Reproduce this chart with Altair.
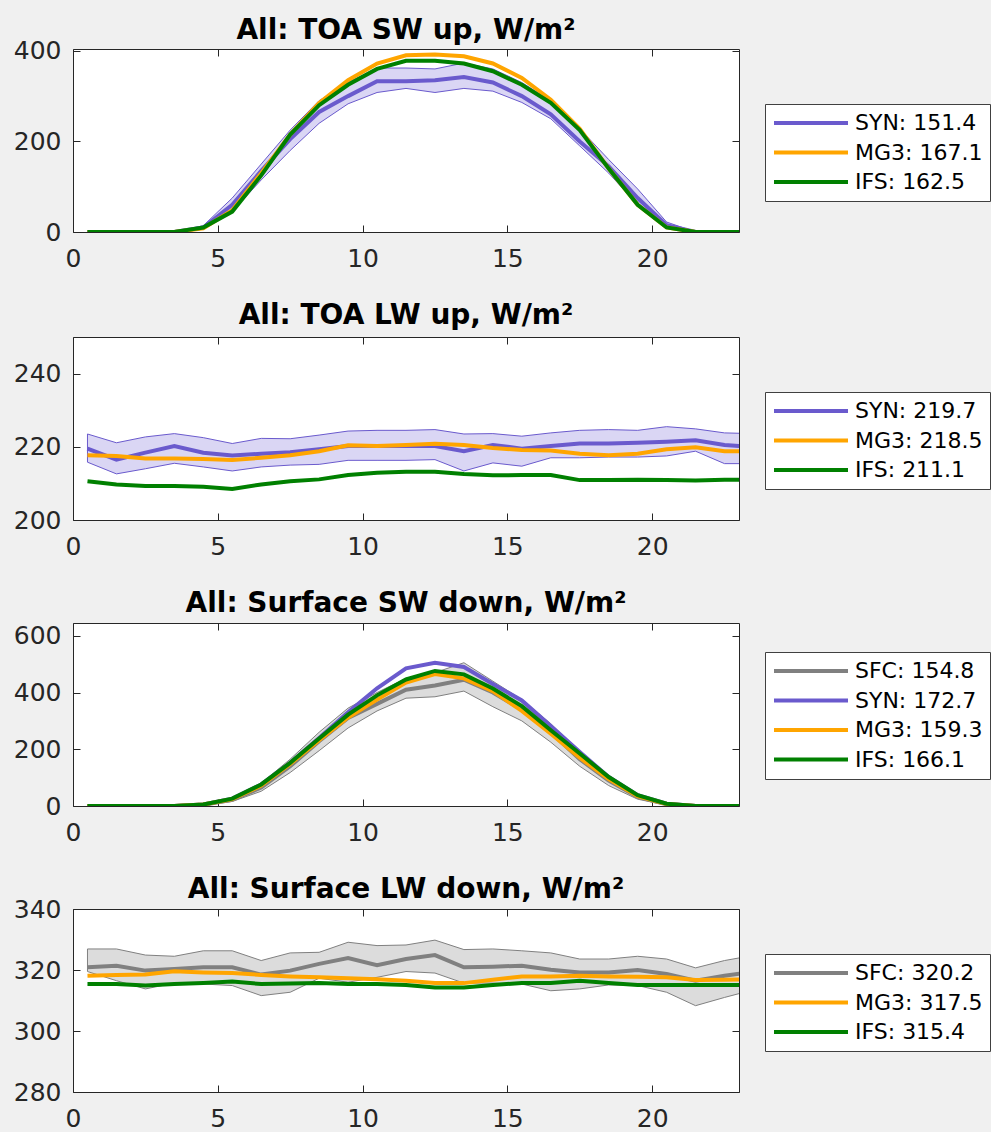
import altair as alt
import pandas as pd

hours = [0.5 + i for i in range(24)]
x_ticks = [0, 5, 10, 15, 20]

# ---------------- Panel 1: TOA SW up ----------------
p1_syn = [0, 0, 0, 0, 10, 60, 135, 205, 265, 300, 333, 333, 335, 342, 330, 300, 260, 200, 145, 75, 15, 0, 0, 0]
p1_syn_lo = [0, 0, 0, 0, 6, 45, 115, 180, 240, 283, 308, 317, 308, 317, 311, 286, 250, 190, 130, 60, 10, 0, 0, 0]
p1_syn_hi = [0, 0, 0, 0, 14, 75, 150, 225, 290, 330, 362, 362, 360, 373, 360, 330, 290, 228, 160, 95, 22, 0, 0, 0]
p1_mg3 = [0, 0, 0, 0, 8, 48, 130, 215, 285, 335, 372, 390, 392, 388, 372, 340, 292, 228, 140, 60, 10, 0, 0, 0]
p1_ifs = [0, 0, 0, 0, 10, 45, 125, 215, 280, 325, 360, 378, 378, 372, 355, 325, 285, 225, 140, 60, 10, 0, 0, 0]

# ---------------- Panel 2: TOA LW up ----------------
p2_syn = [219.5, 216.5, 218.4, 220.2, 218.4, 217.6, 218.1, 218.5, 219.3, 220.2, 220.2, 220.2,
          220.2, 218.8, 220.5, 219.5, 220.2, 220.9, 220.9, 221.1, 221.4, 221.8, 220.5, 219.9]
p2_syn_hi = [223.5, 221.1, 222.7, 223.6, 222.5, 220.9, 222.3, 222.2, 223.2, 224.3, 224.5, 224.5,
             224.7, 223.5, 223.6, 222.9, 223.8, 224.5, 224.7, 224.5, 225.5, 224.9, 223.8, 223.6]
p2_syn_lo = [215.8, 212.6, 214.0, 215.5, 214.5, 213.4, 214.5, 215.0, 215.2, 216.3, 216.3, 216.3,
             216.5, 213.4, 215.6, 214.7, 217.0, 217.0, 217.2, 217.2, 217.5, 218.8, 215.4, 215.4]
p2_mg3 = [217.7, 217.5, 216.8, 216.8, 216.7, 216.4, 217.0, 217.7, 218.8, 220.4, 220.2, 220.5,
          220.8, 220.5, 219.7, 219.1, 219.0, 218.1, 217.7, 218.1, 219.3, 219.9, 218.8, 218.8]
p2_ifs = [210.6, 209.7, 209.3, 209.3, 209.1, 208.5, 209.7, 210.6, 211.1, 212.3, 212.9, 213.2,
          213.2, 212.6, 212.2, 212.3, 212.3, 210.9, 210.9, 211.0, 210.9, 210.8, 211.0, 211.0]

# ---------------- Panel 3: Surface SW down ----------------
p3_sfc = [0, 0, 0, 0, 4, 22, 65, 140, 228, 310, 360, 410, 425, 445, 400, 340, 260, 165, 90, 32, 6, 0, 0, 0]
p3_sfc_hi = [0, 0, 0, 0, 6, 28, 80, 165, 260, 345, 400, 450, 470, 505, 440, 375, 290, 190, 108, 42, 9, 0, 0, 0]
p3_sfc_lo = [0, 0, 0, 0, 2, 16, 52, 118, 195, 275, 335, 380, 385, 405, 350, 300, 225, 140, 72, 24, 3, 0, 0, 0]
p3_syn = [0, 0, 0, 0, 5, 26, 76, 152, 240, 330, 415, 485, 505, 490, 430, 372, 282, 190, 102, 38, 8, 0, 0, 0]
p3_mg3 = [0, 0, 0, 0, 5, 24, 72, 148, 232, 312, 375, 435, 465, 450, 405, 335, 255, 170, 95, 35, 7, 0, 0, 0]
p3_ifs = [0, 0, 0, 0, 5, 26, 76, 152, 238, 322, 390, 446, 476, 464, 414, 352, 267, 185, 102, 38, 8, 0, 0, 0]

# ---------------- Panel 4: Surface LW down ----------------
p4_sfc = [320.9, 321.4, 319.8, 320.3, 320.9, 320.9, 318.5, 319.8, 322.0, 323.9, 321.6, 323.6,
          324.9, 320.9, 321.1, 321.4, 320.1, 319.2, 319.2, 320.0, 318.7, 316.5, 318.1, 319.5]
p4_sfc_hi = [326.9, 326.9, 324.9, 324.5, 326.3, 326.3, 323.1, 325.6, 325.8, 329.1, 328.0, 328.2,
             329.8, 326.7, 326.9, 326.3, 325.6, 323.6, 323.6, 324.5, 323.6, 320.7, 323.1, 324.8]
p4_sfc_lo = [319.5, 316.5, 313.8, 315.7, 315.4, 314.9, 311.6, 312.7, 317.3, 316.0, 317.6, 319.5,
             319.0, 315.7, 315.7, 315.4, 313.2, 313.8, 315.1, 314.9, 312.7, 308.3, 311.0, 313.5]
p4_mg3 = [318.1, 318.4, 318.5, 319.6, 319.2, 319.0, 318.4, 317.9, 317.6, 317.3, 317.0, 316.5,
          315.7, 315.7, 316.8, 317.9, 317.9, 318.1, 317.9, 317.8, 317.6, 316.7, 316.8, 317.0]
p4_ifs = [315.4, 315.4, 314.9, 315.4, 315.7, 316.2, 315.4, 315.6, 315.7, 315.4, 315.4, 315.1,
          314.3, 314.3, 315.1, 315.7, 315.7, 316.5, 315.7, 315.1, 315.1, 315.1, 315.1, 315.1]

C_SYN = "#6a5acd"
C_MG3 = "#ffa500"
C_IFS = "#008000"
C_SFC = "#808080"
FILL_SYN = "#dad6f4"
FILL_SFC = "#dcdcdc"
FRAME = "#262626"
FONT = "DejaVu Sans"
W, H = 666, 183


def panel(title, series, band, band_color, band_fill, ydomain, yticks, legend_y, title_offset):
    rows = []
    for lab, vals, col in series:
        for h, v in zip(hours, vals):
            rows.append({"hour": h, "value": v, "series": lab})
    df = pd.DataFrame(rows)
    bdf = pd.DataFrame({"hour": hours, "lo": band[0], "hi": band[1]})
    labels = [s[0] for s in series]
    colors = [s[2] for s in series]

    xs = alt.Scale(domain=[0, 23], nice=False, zero=False)
    ys = alt.Scale(domain=ydomain, nice=False, zero=False)

    common = dict(grid=False, domain=False, title=None)
    ax_x_lab = alt.Axis(orient="bottom", values=x_ticks, ticks=False, tickSize=0, labelPadding=14,
                        labelFlush=False, labelOverlap=False,
                        labelFontSize=25, labelFont=FONT, labelColor=FRAME, **common)
    ax_y_lab = alt.Axis(orient="left", values=yticks, ticks=False, tickSize=0, labelPadding=12,
                        labelFlush=False, labelOverlap=False,
                        labelFontSize=25, labelFont=FONT, labelColor=FRAME, **common)
    tick_kw = dict(labels=False, ticks=True, tickSize=7, tickColor=FRAME, tickWidth=1, **common)
    ax_x_bot = alt.Axis(orient="top", offset=-H, values=x_ticks, **tick_kw)
    ax_x_top = alt.Axis(orient="bottom", offset=-H, values=x_ticks, **tick_kw)
    ax_y_left = alt.Axis(orient="right", offset=-W, values=yticks, **tick_kw)
    ax_y_right = alt.Axis(orient="left", offset=-W, values=yticks, **tick_kw)

    band_layer = alt.Chart(bdf).mark_area(
        fill=band_fill, stroke=band_color, strokeWidth=1, clip=True, opacity=1
    ).encode(
        x=alt.X("hour:Q", scale=xs, axis=ax_x_lab),
        y=alt.Y("lo:Q", scale=ys, axis=ax_y_lab),
        y2="hi:Q",
    )

    line_layer = alt.Chart(df).mark_line(strokeWidth=4, clip=True).encode(
        x=alt.X("hour:Q", scale=xs, axis=ax_x_bot),
        y=alt.Y("value:Q", scale=ys, axis=ax_y_left),
        color=alt.Color(
            "series:N",
            sort=labels,
            scale=alt.Scale(domain=labels, range=colors),
            legend=alt.Legend(
                orient="none", legendX=692, legendY=legend_y, title=None,
                symbolType="stroke", symbolSize=5476, symbolStrokeWidth=4,
                labelFontSize=22, labelFont=FONT, labelColor="black",
                labelOffset=5, strokeColor="#404040", fillColor="white",
                padding=7, rowPadding=5.5, clipHeight=24,
            ),
        ),
    )

    tick_layer = alt.Chart(df).mark_point(opacity=0).encode(
        x=alt.X("hour:Q", scale=xs, axis=ax_x_top),
        y=alt.Y("value:Q", scale=ys, axis=ax_y_right),
    )

    return alt.layer(band_layer, line_layer, tick_layer).resolve_axis(
        x="independent", y="independent"
    ).properties(
        width=W, height=H,
        title=alt.TitleParams(title, fontSize=28, fontWeight="bold", font=FONT, color="black",
                              anchor="middle", offset=title_offset, frame="group"),
    )


c1 = panel("All: TOA SW up, W/m²",
           [("SYN: 151.4", p1_syn, C_SYN), ("MG3: 167.1", p1_mg3, C_MG3), ("IFS: 162.5", p1_ifs, C_IFS)],
           (p1_syn_lo, p1_syn_hi), C_SYN, FILL_SYN, [0, 404], [0, 200, 400], 55, -6)
c2 = panel("All: TOA LW up, W/m²",
           [("SYN: 219.7", p2_syn, C_SYN), ("MG3: 218.5", p2_mg3, C_MG3), ("IFS: 211.1", p2_ifs, C_IFS)],
           (p2_syn_lo, p2_syn_hi), C_SYN, FILL_SYN, [200, 250], [200, 220, 240], 55, 7)
c3 = panel("All: Surface SW down, W/m²",
           [("SFC: 154.8", p3_sfc, C_SFC), ("SYN: 172.7", p3_syn, C_SYN),
            ("MG3: 159.3", p3_mg3, C_MG3), ("IFS: 166.1", p3_ifs, C_IFS)],
           (p3_sfc_lo, p3_sfc_hi), C_SFC, FILL_SFC, [0, 645], [0, 200, 400, 600], 29, 5)
c4 = panel("All: Surface LW down, W/m²",
           [("SFC: 320.2", p4_sfc, C_SFC), ("MG3: 317.5", p4_mg3, C_MG3), ("IFS: 315.4", p4_ifs, C_IFS)],
           (p4_sfc_lo, p4_sfc_hi), C_SFC, FILL_SFC, [280, 340], [280, 300, 320, 340], 45, -7)

chart = alt.vconcat(c1, c2, c3, c4, spacing=29).resolve_scale(color="independent").configure(
    background="#f0f0f0",
    padding={"left": 12, "top": 16, "right": 0, "bottom": 0},
).configure_view(stroke=FRAME, strokeWidth=1, fill="white")

chart.save("out.html", embed_options={"renderer": "svg", "actions": False})
